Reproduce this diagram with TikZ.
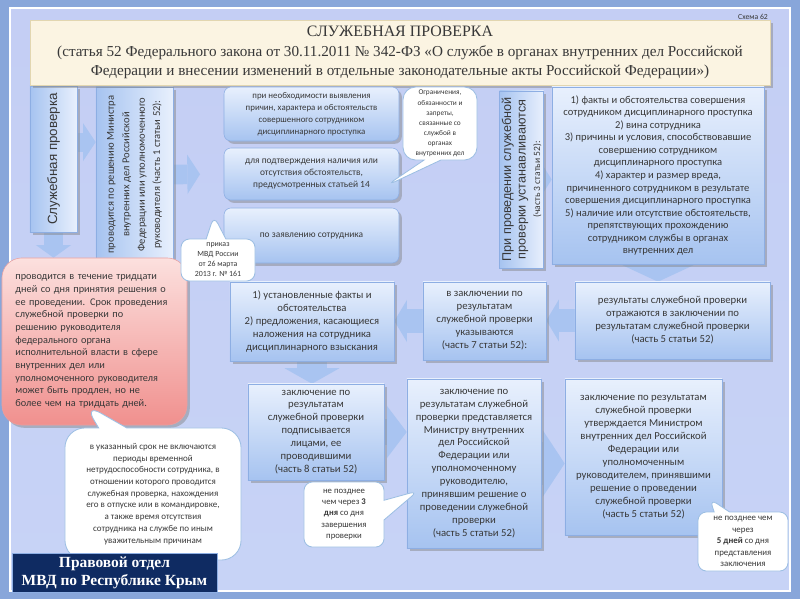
\documentclass[tikz,border=0pt]{standalone}
\usepackage{fontspec}
\setmainfont{Carlito}
\newfontfamily\serifru{Liberation Serif}
\newfontfamily\sansru{Liberation Sans}
\usetikzlibrary{arrows.meta,shapes.callouts,shadows,calc}
\definecolor{frame}{HTML}{88A6DA}
\definecolor{paneltop}{HTML}{C4CEF4}
\definecolor{panelmid}{HTML}{AE84EF}
\definecolor{panelbot}{HTML}{C7D3F6}
\definecolor{boxtop}{HTML}{E8F0FD}
\definecolor{boxbot}{HTML}{A6C3F0}
\definecolor{boxline}{HTML}{8DAEE3}
\definecolor{pinktop}{HTML}{FCE0DE}
\definecolor{pinkbot}{HTML}{F0908E}
\definecolor{pinkline}{HTML}{E8A0A0}
\definecolor{bubbleline}{HTML}{9DBFE3}
\definecolor{navy}{HTML}{0F2B62}
\definecolor{cream}{HTML}{FBF4E2}
\definecolor{creamline}{HTML}{E2D6B0}
\definecolor{arrowblue}{HTML}{A9C4F1}
\definecolor{txt}{HTML}{383838}
\newcommand{\setfs}[2]{\fontsize{#1}{#2}\selectfont}
\pgfdeclarelayer{back}
\pgfdeclarelayer{arrowlayer}
\pgfsetlayers{back,arrowlayer,main}

\begin{document}
\begin{tikzpicture}[x=0.025cm,y=-0.025cm,
   every node/.style={text=txt,inner sep=2pt},
   box/.style={draw=boxline,top color=boxtop,bottom color=boxbot,align=center,
      drop shadow={shadow xshift=2pt,shadow yshift=-2pt,opacity=.45},
      font=\setfs{7.6}{9.2}},
   roundbox/.style={box,rounded corners=5pt,font=\setfs{6.7}{8.8}},
   vbox/.style={box,rotate=90,left color=boxbot,right color=boxtop},
   bubble/.style={rectangle callout,draw=bubbleline,fill=white,line width=.6pt,
      rounded corners=6pt,align=center},
   fat/.style n args={3}{draw=arrowblue,line width=#1,
      -{Triangle[length=#3,width=#2,line width=0pt]}}]
\useasboundingbox (0,0) rectangle (800,599);
\begin{pgfonlayer}{back}
\fill[frame] (0,0) rectangle (800,599);
\shadedraw[top color=paneltop,middle color=panelmid,bottom color=panelbot,draw=white,line width=.8pt]
   (10,8) rectangle (790,591);
\end{pgfonlayer}

\node[anchor=east,font=\setfs{5.5}{6.5}] (schema) at (771,17) {Схема 62};

\node[vbox,minimum width=3.65cm,minimum height=1.175cm,font=\sansru\setfs{9.5}{11}] (sp) at (53.5,159)
   {Служебная проверка};
\node[vbox,minimum width=4.375cm,minimum height=1.925cm,font=\setfs{7.5}{11}] (decide) at (134.5,174.5)
   {проводится по решению  Министра\\внутренних дел Российской\\Федерации или уполномоченного\\руководителя (часть 1 статьи 52):};

\node[draw=creamline,fill=cream,align=center,minimum width=18.5cm,minimum height=1.625cm,
   font=\serifru\setfs{10.8}{13.8},drop shadow={shadow xshift=2pt,shadow yshift=-2pt,opacity=.45}] (title) at (400,52.5)
   {{\setfs{11.3}{13.8}СЛУЖЕБНАЯ ПРОВЕРКА}\\(статья 52 Федерального закона от 30.11.2011 № 342-ФЗ «О службе в органах внутренних дел Российской\\Федерации и внесении изменений в отдельные законодательные акты Российской Федерации»)};

\node[roundbox,minimum width=4.375cm,minimum height=1.35cm,font=\setfs{6.3}{8.6}] (need) at (311.5,114)
   {при необходимости выявления\\причин, характера и обстоятельств\\совершенного сотрудником\\дисциплинарного проступка};
\node[roundbox,minimum width=4.375cm,minimum height=1.3cm] (confirm) at (311.5,174)
   {для подтверждения наличия или\\отсутствия обстоятельств,\\предусмотренных статьей 14};
\node[roundbox,minimum width=4.375cm,minimum height=1.375cm] (request) at (311.5,235.5)
   {по заявлению сотрудника};

\node[bubble,minimum width=1.85cm,minimum height=1.825cm,rounded corners=9pt,font=\setfs{5.2}{7.2},
   callout pointer width=12pt,callout absolute pointer={([xshift=-10pt,yshift=10pt]confirm.south east)}] (limits) at (440,123.5)
   {Ограничения,\\обязанности и\\запреты,\\связанные со\\службой в\\органах\\внутренних дел};

\node[vbox,minimum width=4.425cm,minimum height=1.1cm,inner sep=1pt,font=\sansru\setfs{9}{10.3}] (estab) at (521.5,179.5)
   {При проведении служебной\\проверки устанавливаются\\{\rmfamily\setfs{6.8}{8}(часть 3 статьи 52):}};
\node[box,minimum width=5.3cm,minimum height=4.425cm,font=\setfs{7.5}{8.9}] (facts) at (658,175.5)
   {1) факты и обстоятельства совершения\\сотрудником дисциплинарного проступка\\2) вина сотрудника\\3) причины и условия, способствовавшие\\совершению сотрудником\\дисциплинарного проступка\\4) характер и размер вреда,\\причиненного сотрудником в результате\\совершения дисциплинарного проступка\\5) наличие или отсутствие обстоятельств,\\препятствующих прохождению\\сотрудником службы в органах\\внутренних дел};

\node[box,minimum width=4.875cm,minimum height=1.925cm] (result) at (672.5,320.5)
   {результаты служебной проверки\\отражаются в заключении по\\результатам служебной проверки\\(часть 5 статьи 52)};
\node[box,minimum width=3.075cm,minimum height=1.95cm] (indicate) at (484.5,321)
   {в заключении по\\результатам\\служебной проверки\\указываются\\(часть 7 статьи 52):};
\node[box,minimum width=4.1cm,minimum height=1.975cm] (items) at (312,321.5)
   {1) установленные факты и\\обстоятельства\\2) предложения, касающиеся\\наложения на сотрудника\\дисциплинарного взыскания};

\node[box,minimum width=3.4cm,minimum height=2.4cm] (sign) at (316,432)
   {заключение по\\результатам\\служебной проверки\\подписывается\\лицами, ее\\проводившими\\(часть 8 статьи 52)};
\node[box,minimum width=3.35cm,minimum height=4.225cm] (submit) at (474,463.5)
   {заключение по\\результатам служебной\\проверки представляется\\Министру внутренних\\дел Российской\\Федерации или\\уполномоченному\\руководителю,\\принявшим решение о\\проведении служебной\\проверки\\(часть 5 статьи 52)};
\node[box,minimum width=3.925cm,minimum height=3.9cm] (approve) at (643.5,457)
   {заключение по результатам\\служебной проверки\\утверждается Министром\\внутренних дел Российской\\Федерации или\\уполномоченным\\руководителем, принявшими\\решение о проведении\\служебной проверки\\(часть 5 статьи 52)};

\node[bubble,minimum width=2cm,minimum height=1.625cm,font=\setfs{6.2}{8},callout pointer width=14pt,
   callout absolute pointer={([xshift=8pt,yshift=-19.5pt]submit.west)}] (days3) at (344,514.5)
   {не позднее\\чем через \textbf{3}\\\textbf{дня} со дня\\завершения\\проверки};
\node[bubble,minimum width=2.25cm,minimum height=1.475cm,font=\setfs{6.3}{8.2},callout pointer width=11pt,
   callout absolute pointer={([xshift=-9pt,yshift=26pt]approve.south east)}] (days5) at (743,541.5)
   {не позднее чем\\через\\\textbf{5 дней} со дня\\представления\\заключения};

\node[draw=pinkline,top color=pinktop,bottom color=pinkbot,rounded corners=14pt,
   minimum width=4.625cm,minimum height=4.175cm,text width=3.95cm,align=left,font=\setfs{7.3}{9},
   drop shadow={shadow xshift=2pt,shadow yshift=-2pt,opacity=.45}] (term) at (94.5,341.5)
   {проводится в течение тридцати\\дней со дня принятия решения о\\ее проведении. Срок проведения\\служебной проверки по\\решению руководителя\\федерального органа\\исполнительной власти в сфере\\внутренних дел или\\уполномоченного руководителя\\может быть продлен, но не\\более чем на тридцать дней.};

\node[bubble,minimum width=1.85cm,minimum height=1.05cm,font=\setfs{5.6}{7.1},callout pointer width=14pt,
   callout absolute pointer={([xshift=-7pt,yshift=14pt]request.west)}] (order) at (218,260)
   {приказ\\МВД России\\от 26 марта\\2013 г. № 161};

\node[bubble,minimum width=4.4cm,minimum height=3.3cm,rounded corners=14pt,font=\setfs{6.4}{8.3},
   callout pointer width=20pt,callout absolute pointer={([xshift=-7.5pt,yshift=15.5pt]term.south)}] (excl) at (153,494)
   {в указанный срок не включаются\\периоды временной\\нетрудоспособности сотрудника, в\\отношении которого проводится\\служебная проверка, нахождения\\его в отпуске или в командировке,\\а также время отсутствия\\сотрудника на службе по иным\\уважительным причинам};

\node[draw=boxline,fill=navy,text=white,minimum width=5.125cm,minimum height=.975cm,
   align=center,font=\serifru\bfseries\setfs{11}{12.8}] (dept) at (114.5,572.5)
   {Правовой отдел\\МВД по Республике Крым};

\begin{pgfonlayer}{arrowlayer}
\draw[fat={13.5pt}{27pt}{9pt}] ([yshift=12pt]sp.south) -- ([yshift=12pt]decide.north |- sp.south);
\draw[fat={13pt}{25pt}{9pt}] (sp.west) -- (sp.west |- term.north);
\draw[fat={14pt}{28pt}{9pt}] (decide.south) -- ($(decide.south)!.53!(confirm.west)$);
\draw[fat={10pt}{19pt}{6pt}] ([xshift=-4pt]estab.south) -- (estab.south -| facts.west);
\draw[fat={28pt}{56pt}{13pt}] ([yshift=8pt]facts.south) -- (facts.south |- result.north);
\draw[fat={17pt}{30pt}{9pt}] (result.west) -- (result.west -| indicate.east);
\draw[fat={17pt}{30pt}{9pt}] (indicate.west) -- (indicate.west -| items.east);
\draw[fat={21pt}{39pt}{11pt}] (items.south) -- (items.south |- sign.north);
\draw[fat={19pt}{37pt}{14pt}] (sign.east) -- (sign.east -| submit.west);
\draw[fat={30pt}{47pt}{15.5pt}] ([xshift=-10pt]submit.east) -- (submit.east -| approve.west);
\end{pgfonlayer}
\end{tikzpicture}
\end{document}
